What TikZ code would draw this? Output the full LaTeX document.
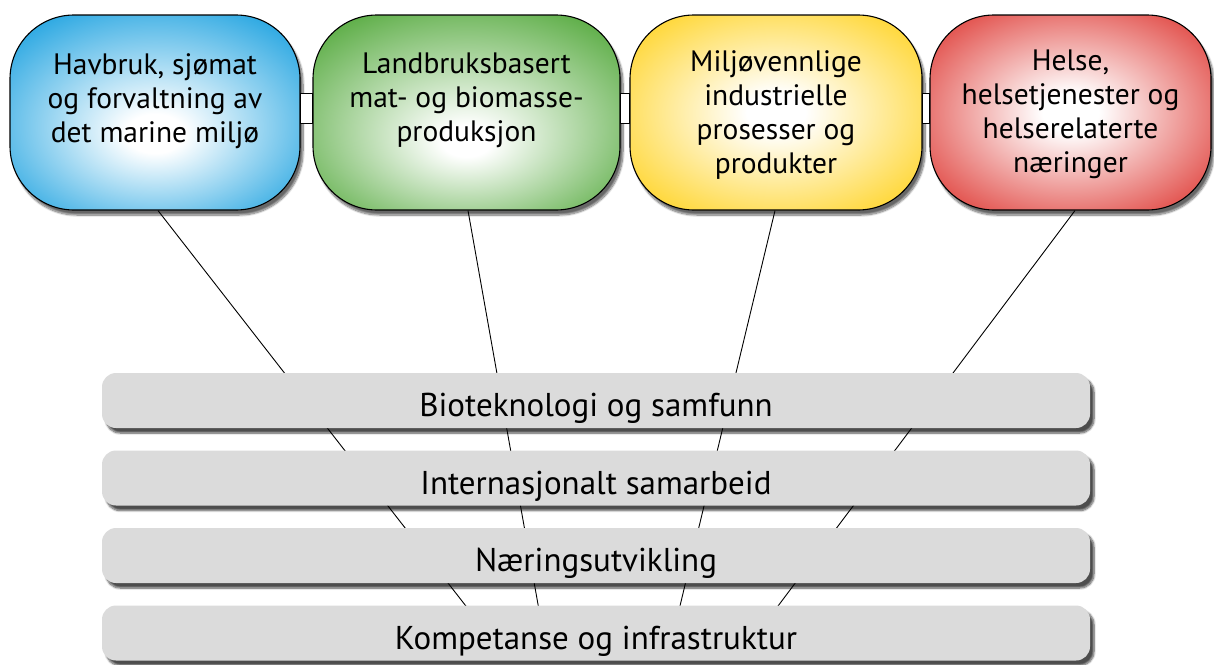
\documentclass[tikz,border=0pt]{standalone}
\usepackage{fontspec}
\setmainfont{PT Sans}
\usetikzlibrary{shadows.blur}
\definecolor{cblue}{RGB}{0,150,220}
\definecolor{cgreen}{RGB}{66,160,40}
\definecolor{cyellow}{RGB}{255,204,0}
\definecolor{cred}{RGB}{218,32,26}
\definecolor{barC}{RGB}{219,219,219}
\pgfdeclareradialshading{shblue}{\pgfpoint{0bp}{-6bp}}{color(0bp)=(white); color(5bp)=(white); color(38bp)=(cblue); color(50bp)=(cblue)}
\pgfdeclareradialshading{shgreen}{\pgfpoint{0bp}{-8bp}}{color(0bp)=(white); color(4bp)=(white); color(38bp)=(cgreen); color(50bp)=(cgreen)}
\pgfdeclareradialshading{shyellow}{\pgfpoint{0bp}{0bp}}{color(0bp)=(white); color(5bp)=(white); color(38bp)=(cyellow); color(50bp)=(cyellow)}
\pgfdeclareradialshading{shred}{\pgfpoint{0bp}{0bp}}{color(0bp)=(white); color(5bp)=(white); color(38bp)=(cred); color(50bp)=(cred)}
\begin{document}
\begin{tikzpicture}[x=1pt,y=-1pt,
  topbox/.style={draw=black, line width=1.1pt, rounded corners=64pt, minimum height=195pt, inner sep=0pt,
    blur shadow={shadow xshift=3pt,shadow yshift=-5pt,shadow blur steps=10,shadow opacity=60}},
  toptext/.style={anchor=north, align=center, inner sep=0pt, font=\fontsize{29.5}{34}\selectfont},
  barbox/.style={fill=barC, rounded corners=14pt, minimum width=988pt, minimum height=55pt, inner sep=0pt,
    text height=32pt, text depth=0pt, font=\fontsize{33}{36}\selectfont},
  barshadow/.style={rounded corners=14pt,
    blur shadow={shadow xshift=4pt, shadow yshift=-5pt, shadow blur steps=8, shadow opacity=70}},
  conn/.style={draw=black, line width=0.9pt},
  link/.style={draw=black, fill=white, line width=1pt}]
\useasboundingbox (0,0) rectangle (1214,664);

% top boxes
\node[topbox, shading=shblue, minimum width=290pt] (b1) at (155,112.5) {};
\node[topbox, shading=shgreen, minimum width=307pt] (b2) at (466.5,112.5) {};
\node[topbox, shading=shyellow, minimum width=292pt] (b3) at (776,112.5) {};
\node[topbox, shading=shred, minimum width=281pt] (b4) at (1070.5,112.5) {};

% links between boxes
\draw[link] ([yshift=19.5pt]b1.east) rectangle ([yshift=-10.5pt]b2.west);
\draw[link] ([yshift=19.5pt]b2.east) rectangle ([yshift=-10.5pt]b3.west);
\draw[link] ([yshift=19.5pt]b3.east) rectangle ([yshift=-10.5pt]b4.west);

% texts
\node[toptext] (t1) at ([yshift=-38.5pt]b1.north) {Havbruk, sjømat\\og forvaltning av\\det marine miljø};
\node[toptext] (t2) at ([yshift=-38.5pt]b2.north) {Landbruksbasert\\mat- og biomasse-\\produksjon};
\node[toptext] (t3) at ([yshift=-35.5pt]b3.north) {Miljøvennlige\\industrielle\\prosesser og\\produkter};
\node[toptext] (t4) at ([yshift=-35.5pt]b4.north) {Helse,\\helsetjenester og\\helserelaterte\\næringer};

% bar centres
\coordinate (c1) at (596,400.5);
\coordinate (c2) at (596,478);
\coordinate (c3) at (596,555.5);
\coordinate (c4) at (596,633);

% bar shadows
\foreach \c in {c1,c2,c3,c4}
  \path[barshadow] ([shift={(-494,-27.5)}]\c) rectangle ([shift={(494,27.5)}]\c);

% connector ends (hidden under the lowest bar)
\coordinate (e1) at (469,610);
\coordinate (e2) at (539,610);
\coordinate (e3) at (679,610);
\coordinate (e4) at (775,610);

\draw[conn] ([xshift=3pt]b1.south) -- (e1);
\draw[conn] ([xshift=1.5pt]b2.south) -- (e2);
\draw[conn] ([xshift=-1pt]b3.south) -- (e3);
\draw[conn] ([xshift=4.5pt]b4.south) -- (e4);

% bars
\node[barbox] (r1) at (c1) {Bioteknologi og samfunn};
\node[barbox] (r2) at (c2) {Internasjonalt samarbeid};
\node[barbox] (r3) at (c3) {Næringsutvikling};
\node[barbox] (r4) at (c4) {Kompetanse og infrastruktur};
\end{tikzpicture}
\end{document}
